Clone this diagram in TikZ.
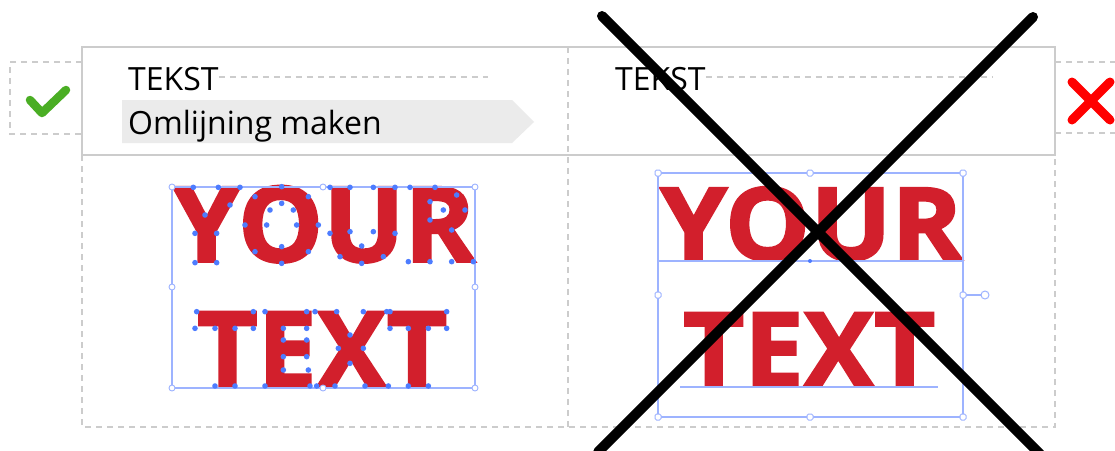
\documentclass[tikz,border=0pt]{standalone}
\usepackage{fontspec}
\setmainfont{Open Sans}
\newfontfamily\heavyfont[FakeBold=2.2]{Open Sans}
\usetikzlibrary{calc}
\definecolor{bord}{HTML}{CCCCCC}
\definecolor{txtred}{HTML}{D21F2C}
\definecolor{selblue}{HTML}{9DB3FF}
\definecolor{dotblue}{HTML}{4D7CFF}
\definecolor{okgreen}{HTML}{4AAE24}
\definecolor{nored}{HTML}{FF0000}
\definecolor{arrowgray}{HTML}{EBEBEB}
\tikzset{
  dashgray/.style={draw=bord, line width=1.2pt, dash pattern=on 6pt off 5pt},
  label32/.style={font=\fontsize{32}{36}\selectfont, inner sep=0pt, anchor=base west, text=black},
  bigtext/.style={inner sep=0pt, anchor=south west, text=txtred, font=\heavyfont\bfseries},
  handle/.style={draw=selblue, fill=white, line width=1pt, rounded corners=1.5pt, minimum size=6pt, inner sep=0pt},
  selline/.style={draw=selblue, line width=1.2pt},
}
\begin{document}
\begin{tikzpicture}[x=1pt,y=-1pt]
\clip (0,0) rectangle (1115,450);
\fill[white] (0,0) rectangle (1115,450);
% small side boxes
\draw[dashgray] (82,62) -- (10,62) -- (10,134) -- (82,134);
\draw[dashgray] (1055,62) -- (1120,62);
\draw[dashgray] (1055,133) -- (1120,133);
% frame
\draw[dashgray] (82,155) -- (82,427) -- (1055,427) -- (1055,155);
\draw[dashgray] (568,47) -- (568,427);
\draw[draw=bord, line width=1.2pt] (82,47) rectangle (1055,155);
% check and cross
\draw[okgreen, line width=8.5pt, line cap=round, line join=round] (30,100) -- (42,113) -- (66,90);
\draw[nored, line width=9pt, line cap=round] (1072,82) -- (1110,120) (1110,82) -- (1072,120);
% header texts
\fill[arrowgray] (122,100) -- (512,100) -- (534,122) -- (512,143) -- (122,143) -- cycle;
\node[label32] (tekstL) at (128,90) {TEKST};
\node[label32] (omlijning) at (128,134) {Omlijning maken};
\coordinate (dL) at (488,77);
\draw[dashgray] (tekstL.east |- dL) -- (dL);
\node[label32] (tekstR) at (615,90) {TEKST};
\coordinate (dR) at (993,77);
\draw[dashgray] (tekstR.east |- dR) -- (dR);
% left YOUR TEXT (outlined)
\node[bigtext] (yourL) at (173,263) {\resizebox{302pt}{76pt}{YOUR}};
\node[bigtext] (textL) at (197,388) {\resizebox{250pt}{76pt}{TEXT}};
\draw[selline] (172,187) rectangle (475,388);
\foreach \a/\b in {130/52,205/52,270/52,165/135,135/190,200/190,135/278,200/278,240/105,
  395/50,315/80,475/80,285/165,505/165,315/245,475/245,395/280,395/100,350/165,440/165,395/230,430/120,360/120,
  540/52,600/52,670/52,735/52,540/190,600/185,670/185,735/190,635/228,635/280,570/260,700/260,
  780/52,855/52,920/75,945/120,905/180,970/275,905/275,840/275,775/275,840/95,880/120,840/150,
  140/425,310/425,135/475,195/475,255/475,310/475,195/648,255/648,
  345/425,470/425,400/475,470/475,400/510,470/510,400/560,470/560,400/600,475/600,345/648,480/648,
  495/425,560/425,640/425,710/425,600/495,565/535,640/535,600/580,500/648,555/648,645/648,715/648,
  720/425,890/425,720/475,775/475,835/475,890/475,775/648,835/648}
  \fill[dotblue] ({150+\a/3},{170+\b/3}) circle (2.8);
\foreach \p in {(172,187),(323,187),(475,187),(172,287),(475,287),(172,388),(323,388),(475,388)}
  \draw[selblue, fill=white, line width=0.9pt] \p circle (3);
% right YOUR TEXT
\node[bigtext] (yourR) at (660,261) {\resizebox{302pt}{73pt}{YOUR}};
\node[bigtext] (textR) at (683,387) {\resizebox{252pt}{74pt}{TEXT}};
\draw[selline] (658,173) rectangle (963,417);
\draw[selline] (658,261) -- (963,261);
\draw[selline] (680,387) -- (938,387);
\fill[dotblue] (810,261) circle (2);
\draw[selline] (963,295) -- (981,295);
\draw[selblue, fill=white, line width=1pt] (985,295) circle (4);
\foreach \p/\n in {(658,173)/h1,(810,173)/h2,(963,173)/h3,(658,295)/h4,(963,295)/h5,(658,417)/h6,(810,417)/h7,(963,417)/h8}
  \node[handle] (\n) at \p {};
% big cross
\draw[black, line width=10pt, line cap=round] (602,16) -- (1040,454);
\draw[black, line width=10pt, line cap=round] (1033,17) -- (598,452);
\end{tikzpicture}
\end{document}
